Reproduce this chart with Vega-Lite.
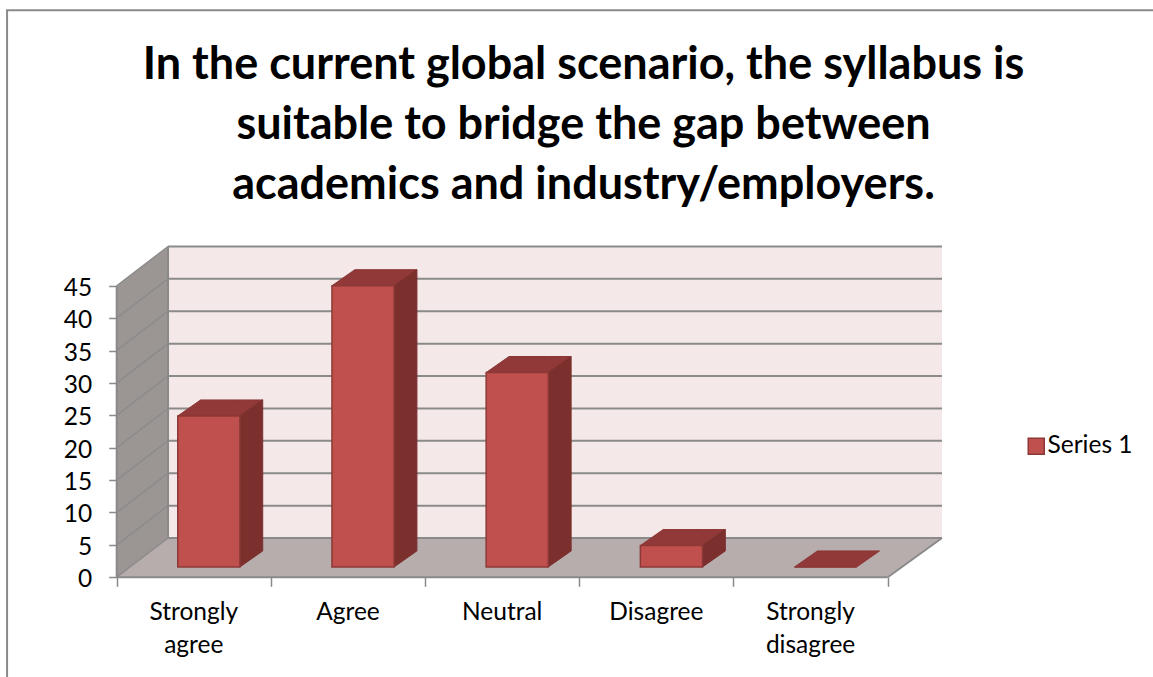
{
"$schema":"https://vega.github.io/schema/vega-lite/v6.json",
"width":1153,"height":677,"padding":0,"autosize":"none","background":"#ffffff",
"title":{"text":["In the current global scenario, the syllabus is","suitable to bridge the gap between","academics and industry/employers."],"font":"Lato","fontSize":45,"fontWeight":"bold","color":"#000000","anchor":"middle","frame":"group","baseline":"top","dx":7,"dy":208,"lineHeight":60,"offset":0},
"config":{"view":{"stroke":null},"font":"Lato"},
"resolve":{"axis":{"x":"independent","y":"independent"}},
"datasets":{
"bars":[{"category":"Strongly agree","position":0,"value":23.3},{"category":"Agree","position":1,"value":43.4},{"category":"Neutral","position":2,"value":30},{"category":"Disagree","position":3,"value":3.3},{"category":"Strongly disagree","position":4,"value":0}],
"surfaces":[{"surface":"left","x":0,"low":0,"high":45},{"surface":"left","x":0.333,"low":6.06,"high":51.06},{"surface":"back","x":0.333,"low":6.06,"high":51.06},{"surface":"back","x":5.352,"low":6.06,"high":51.06},{"surface":"floor","x":0,"low":0,"high":0},{"surface":"floor","x":0.333,"low":0,"high":6.06},{"surface":"floor","x":5,"low":0,"high":6.06},{"surface":"floor","x":5.352,"low":6.06,"high":6.06}],
"levels":[{"level":0},{"level":5},{"level":10},{"level":15},{"level":20},{"level":25},{"level":30},{"level":35},{"level":40},{"level":45}],
"edges":[{"x":0,"x2":0,"y":0,"y2":45},{"x":0,"x2":5,"y":0,"y2":0},{"x":5,"x2":5.352,"y":0,"y2":6.06},{"x":0.333,"x2":0.333,"y":6.06,"y2":51.06}]
},
"layer":[
{"data":{"values":[{"left":-0.711,"right":8,"top":87.5,"bottom":-30}]},
 "mark":{"type":"rect","fill":null,"stroke":"#8a8a8a","strokeWidth":2},
 "encoding":{"x":{"field":"left","type":"quantitative","scale":{"domain":[-0.7568,6.7205],"nice":false,"zero":false},"axis":{"orient":"bottom","offset":-99.7,"values":[0,1,2,3,4,5],"labels":false,"title":null,"grid":false,"domain":false,"ticks":true,"tickSize":9,"tickColor":"#8a8a8a","tickWidth":1.5}},"x2":{"field":"right"},
 "y":{"field":"bottom","type":"quantitative","scale":{"domain":[-15.386,89.09],"nice":false,"zero":false},"axis":{"orient":"left","offset":-116.7,"values":[0,5,10,15,20,25,30,35,40,45],"title":null,"grid":false,"domain":false,"ticks":true,"tickSize":8,"tickColor":"#8a8a8a","tickWidth":1.5,"labelFont":"Lato","labelFontSize":24.5,"labelColor":"#000000","labelPadding":17,"labelOffset":2.5}},"y2":{"field":"top"}}},
{"data":{"name":"surfaces"},"transform":[{"filter":"datum.surface==='back'"}],"mark":{"type":"area","color":"#f5e8e8","orient":"vertical"},
 "encoding":{"x":{"field":"x","type":"quantitative","scale":{"domain":[-0.7568,6.7205],"nice":false,"zero":false},"axis":null},"y":{"field":"low","type":"quantitative","scale":{"domain":[-15.386,89.09],"nice":false,"zero":false},"axis":null},"y2":{"field":"high"}}},
{"data":{"name":"surfaces"},"transform":[{"filter":"datum.surface==='left'"}],"mark":{"type":"area","color":"#9b9593","orient":"vertical"},
 "encoding":{"x":{"field":"x","type":"quantitative","scale":{"domain":[-0.7568,6.7205],"nice":false,"zero":false},"axis":null},"y":{"field":"low","type":"quantitative","scale":{"domain":[-15.386,89.09],"nice":false,"zero":false},"axis":null},"y2":{"field":"high"}}},
{"data":{"name":"surfaces"},"transform":[{"filter":"datum.surface==='floor'"}],"mark":{"type":"area","color":"#b8adad","orient":"vertical"},
 "encoding":{"x":{"field":"x","type":"quantitative","scale":{"domain":[-0.7568,6.7205],"nice":false,"zero":false},"axis":null},"y":{"field":"low","type":"quantitative","scale":{"domain":[-15.386,89.09],"nice":false,"zero":false},"axis":null},"y2":{"field":"high"}}},
{"data":{"name":"levels"},"transform":[{"calculate":"0","as":"xa"},{"calculate":"0.333","as":"xb"},{"calculate":"datum.level+6.06","as":"yb"}],"mark":{"type":"rule","color":"#8a8a8a","strokeWidth":1.3},
 "encoding":{"x":{"field":"xa","type":"quantitative","scale":{"domain":[-0.7568,6.7205],"nice":false,"zero":false},"axis":null},"x2":{"field":"xb"},"y":{"field":"level","type":"quantitative","scale":{"domain":[-15.386,89.09],"nice":false,"zero":false},"axis":null},"y2":{"field":"yb"}}},
{"data":{"name":"levels"},"transform":[{"calculate":"0.333","as":"xa"},{"calculate":"5.352","as":"xb"},{"calculate":"datum.level+6.06","as":"yb"}],"mark":{"type":"rule","color":"#8a8a8a","strokeWidth":2},
 "encoding":{"x":{"field":"xa","type":"quantitative","scale":{"domain":[-0.7568,6.7205],"nice":false,"zero":false},"axis":null},"x2":{"field":"xb"},"y":{"field":"yb","type":"quantitative","scale":{"domain":[-15.386,89.09],"nice":false,"zero":false},"axis":null},"y2":{"field":"yb"}}},
{"data":{"name":"edges"},"mark":{"type":"rule","color":"#8a8a8a","strokeWidth":2},
 "encoding":{"x":{"field":"x","type":"quantitative","scale":{"domain":[-0.7568,6.7205],"nice":false,"zero":false},"axis":null},"x2":{"field":"x2"},"y":{"field":"y","type":"quantitative","scale":{"domain":[-15.386,89.09],"nice":false,"zero":false},"axis":null},"y2":{"field":"y2"}}},
{"data":{"name":"bars"},"transform":[{"calculate":"datum.position+0.396","as":"xl"},{"calculate":"datum.xl+0.403","as":"xr"},{"calculate":"1.6+datum.value","as":"top"},{"calculate":"[datum.xl,datum.xl+0.148,datum.xr,datum.xr+0.148]","as":"px"},{"calculate":"[datum.top,datum.top,datum.top,datum.top+2.47]","as":"lo"},{"calculate":"[datum.top,datum.top+2.47,datum.top+2.47,datum.top+2.47]","as":"hi"},{"flatten":["px","lo","hi"]}],
 "mark":{"type":"area","color":"#903938","orient":"vertical","stroke":"#8a3735","strokeWidth":1},
 "encoding":{"detail":{"field":"category"},"x":{"field":"px","type":"quantitative","scale":{"domain":[-0.7568,6.7205],"nice":false,"zero":false},"axis":null},"y":{"field":"lo","type":"quantitative","scale":{"domain":[-15.386,89.09],"nice":false,"zero":false},"axis":null},"y2":{"field":"hi"}}},
{"data":{"name":"bars"},"transform":[{"filter":"datum.value>0"},{"calculate":"datum.position+0.396+0.403","as":"xr"},{"calculate":"1.6+datum.value","as":"top"},{"calculate":"[datum.xr,datum.xr+0.148]","as":"px"},{"calculate":"[1.6,1.6+2.47]","as":"lo"},{"calculate":"[datum.top,datum.top+2.47]","as":"hi"},{"flatten":["px","lo","hi"]}],
 "mark":{"type":"area","color":"#7b302e","orient":"vertical","stroke":"#7b302e","strokeWidth":1},
 "encoding":{"detail":{"field":"category"},"x":{"field":"px","type":"quantitative","scale":{"domain":[-0.7568,6.7205],"nice":false,"zero":false},"axis":null},"y":{"field":"lo","type":"quantitative","scale":{"domain":[-15.386,89.09],"nice":false,"zero":false},"axis":null},"y2":{"field":"hi"}}},
{"data":{"name":"bars"},"transform":[{"calculate":"datum.position+0.396","as":"xl"},{"calculate":"datum.xl+0.403","as":"xr"},{"calculate":"1.6","as":"base"},{"calculate":"1.6+datum.value","as":"top"}],
 "mark":{"type":"rect","stroke":"#8c3836","strokeWidth":1.5},
 "encoding":{"color":{"datum":"Series 1","scale":{"range":["#c0504d"]},"legend":{"title":null,"orient":"none","legendX":1024,"legendY":434,"symbolType":"square","symbolSize":256,"symbolStrokeColor":"#8c3836","symbolStrokeWidth":1.5,"symbolFillColor":"#c0504d","labelFont":"Lato","labelFontSize":24.5,"labelColor":"#000000","labelOffset":-1}},
 "x":{"field":"xl","type":"quantitative","scale":{"domain":[-0.7568,6.7205],"nice":false,"zero":false},"axis":null},"x2":{"field":"xr"},"y":{"field":"base","type":"quantitative","scale":{"domain":[-15.386,89.09],"nice":false,"zero":false},"axis":null},"y2":{"field":"top"}}},
{"data":{"name":"bars"},"transform":[{"calculate":"datum.position+0.5","as":"lx"},{"calculate":"-3.6","as":"ly"}],
 "mark":{"type":"text","font":"Lato","fontSize":24.5,"color":"#000000","align":"center","baseline":"top","lineBreak":" ","lineHeight":33},
 "encoding":{"text":{"field":"category"},"x":{"field":"lx","type":"quantitative","scale":{"domain":[-0.7568,6.7205],"nice":false,"zero":false},"axis":null},"y":{"field":"ly","type":"quantitative","scale":{"domain":[-15.386,89.09],"nice":false,"zero":false},"axis":null}}}
]
}
